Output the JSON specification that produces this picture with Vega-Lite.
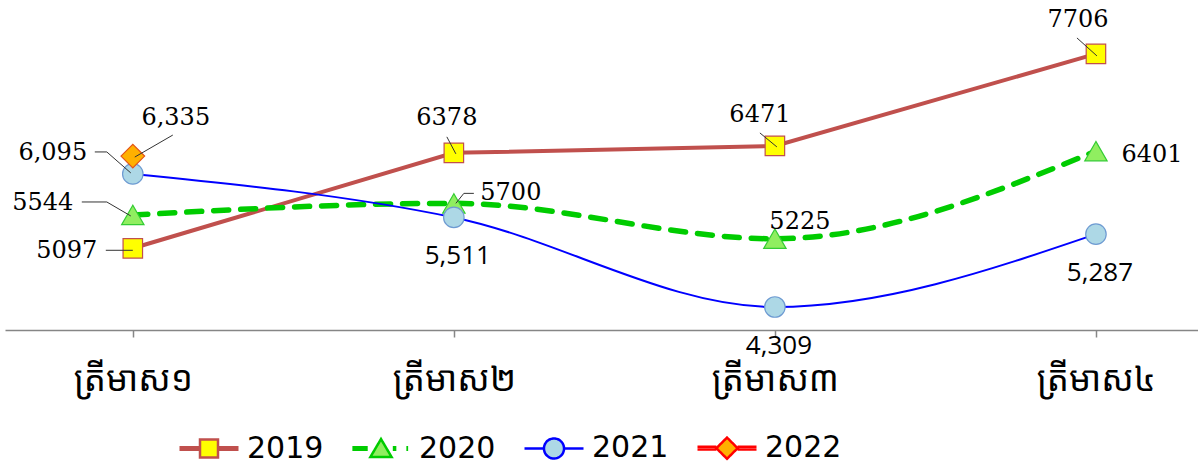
{
  "$schema": "https://vega.github.io/schema/vega-lite/v6.json",
  "width": 1193,
  "height": 330,
  "autosize": {"type": "none"},
  "padding": {"left": 5, "top": 0, "right": 0, "bottom": 137},
  "background": "white",
  "config": {"view": {"stroke": null}},
  "data": {"values": [
    {"q": "ត្រីមាស១", "quarter": 1, "year": "2019", "value": 5097, "label": "5097"},
    {"q": "ត្រីមាស២", "quarter": 2, "year": "2019", "value": 6378, "label": "6378"},
    {"q": "ត្រីមាស៣", "quarter": 3, "year": "2019", "value": 6471, "label": "6471"},
    {"q": "ត្រីមាស៤", "quarter": 4, "year": "2019", "value": 7706, "label": "7706"},
    {"q": "ត្រីមាស១", "quarter": 1, "year": "2020", "value": 5544, "label": "5544"},
    {"q": "ត្រីមាស២", "quarter": 2, "year": "2020", "value": 5700, "label": "5700"},
    {"q": "ត្រីមាស៣", "quarter": 3, "year": "2020", "value": 5225, "label": "5225"},
    {"q": "ត្រីមាស៤", "quarter": 4, "year": "2020", "value": 6401, "label": "6401"},
    {"q": "ត្រីមាស១", "quarter": 1, "year": "2021", "value": 6095, "label": "6,095"},
    {"q": "ត្រីមាស២", "quarter": 2, "year": "2021", "value": 5511, "label": "5,511"},
    {"q": "ត្រីមាស៣", "quarter": 3, "year": "2021", "value": 4309, "label": "4,309"},
    {"q": "ត្រីមាស៤", "quarter": 4, "year": "2021", "value": 5287, "label": "5,287"},
    {"q": "ត្រីមាស១", "quarter": 1, "year": "2022", "value": 6335, "label": "6,335"}
  ]},
  "encoding": {
    "x": {
      "field": "q", "type": "nominal",
      "sort": ["ត្រីមាស១", "ត្រីមាស២", "ត្រីមាស៣", "ត្រីមាស៤"],
      "scale": {"type": "point", "padding": 0.358, "align": 0.556},
      "axis": {"title": null, "grid": false, "domainColor": "#868686", "domainWidth": 1.5, "tickColor": "#868686", "tickSize": 7, "tickWidth": 1.5, "labelFont": "Noto Sans Khmer, Khmer OS, DejaVu Sans, sans-serif", "labelFontSize": 35, "labelColor": "#000000", "labelPadding": 25, "labelAngle": 0}
    },
    "y": {"field": "value", "type": "quantitative", "scale": {"domain": [4000, 8430], "zero": false, "nice": false}, "axis": null}
  },
  "layer": [
    {
      "transform": [{"filter": "datum.year == '2019'"}],
      "mark": {"type": "line", "strokeWidth": 4, "interpolate": "linear"},
      "encoding": {"stroke": {"field": "year", "type": "nominal",
        "scale": {"domain": ["2019", "2020", "2021", "2022"], "range": ["#C0504D", "#00CC00", "#0000FF", "#FF0000"]},
        "legend": {"orient": "none", "legendX": 173, "legendY": 417, "direction": "horizontal", "columns": 4, "title": null,
          "symbolSize": 3481, "symbolStrokeWidth": 2.5, "labelFont": "DejaVu Sans", "labelFontSize": 30, "labelColor": "#000000", "labelOffset": 7, "columnPadding": 23, "labelLimit": 300,
          "encode": {"symbols": {"update": {
            "shape": {"signal": "datum.value == '2019' ? 'M-1,-0.045H-0.31M-1,0.045H-0.31M0.31,-0.045H1M0.31,0.045H1M-0.305,-0.305H0.305V0.305H-0.305Z' : datum.value == '2020' ? 'M-0.97,-0.045H-0.45M-0.97,0.045H-0.45M0.4,-0.045H0.52M0.4,0.045H0.52M0.86,-0.045H0.92M0.86,0.045H0.92M0,-0.32L0.36,0.29H-0.36Z' : datum.value == '2021' ? 'M-1,0H-0.34M0.34,0H1M0.34,0A0.34,0.34 0 1,1 -0.34,0A0.34,0.34 0 1,1 0.34,0Z' : 'M-1,-0.045H-0.36M-1,0.045H-0.36M0.36,-0.045H1M0.36,0.045H1M0,-0.36L0.36,0L0,0.36L-0.36,0Z'"},
            "fill": {"signal": "datum.value == '2019' ? '#FFFF00' : datum.value == '2020' ? '#90EE60' : datum.value == '2021' ? '#ADD8E6' : '#FFB000'"},
            "stroke": {"signal": "datum.value == '2019' ? '#C0504D' : datum.value == '2020' ? '#00CC00' : datum.value == '2021' ? '#0000FF' : '#FF0000'"},
            "strokeWidth": {"value": 2.5},
            "strokeDash": {"value": [1, 0]},
            "opacity": {"value": 1}
          }}}
        }}}
    },
    {
      "transform": [{"filter": "datum.year == '2020'"}],
      "mark": {"type": "line", "strokeWidth": 5.5, "interpolate": "monotone", "strokeDash": [15, 12], "strokeCap": "round"},
      "encoding": {"stroke": {"field": "year", "type": "nominal",
        "scale": {"domain": ["2019", "2020", "2021", "2022"], "range": ["#C0504D", "#00CC00", "#0000FF", "#FF0000"]}}}
    },
    {
      "transform": [{"filter": "datum.year == '2021'"}],
      "mark": {"type": "line", "strokeWidth": 2, "interpolate": "monotone"},
      "encoding": {"stroke": {"field": "year", "type": "nominal",
        "scale": {"domain": ["2019", "2020", "2021", "2022"], "range": ["#C0504D", "#00CC00", "#0000FF", "#FF0000"]}}}
    },
    {
      "mark": {"type": "point", "filled": true, "opacity": 1, "strokeWidth": 1.2},
      "encoding": {
        "shape": {"condition": [{"test": "datum.year == '2019'", "value": "square"}, {"test": "datum.year == '2020'", "value": "triangle-up"}, {"test": "datum.year == '2021'", "value": "circle"}], "value": "diamond"},
        "size": {"condition": [{"test": "datum.year == '2019'", "value": 380}, {"test": "datum.year == '2020'", "value": 500}, {"test": "datum.year == '2021'", "value": 420}], "value": 560},
        "fill": {"condition": [{"test": "datum.year == '2019'", "value": "#FFFF00"}, {"test": "datum.year == '2020'", "value": "#90EE60"}, {"test": "datum.year == '2021'", "value": "#ADD8E6"}], "value": "#FFB000"},
        "stroke": {"condition": [{"test": "datum.year == '2019'", "value": "#C0504D"}, {"test": "datum.year == '2020'", "value": "#33CC33"}, {"test": "datum.year == '2021'", "value": "#6E9BD2"}], "value": "#E2541A"}
      }
    },
    {"transform": [{"filter": "datum.year == '2022'"}], "mark": {"type": "rule", "color": "#333333", "strokeWidth": 1, "xOffset": 40, "yOffset": -21, "x2Offset": 2, "y2Offset": 1}, "encoding": {"x2": {"field": "q"}, "y2": {"field": "value"}}},
    {"transform": [{"filter": "datum.year == '2021' && datum.quarter == 1"}], "mark": {"type": "rule", "color": "#333333", "strokeWidth": 1, "xOffset": -38, "yOffset": -22, "x2Offset": -26, "y2Offset": -22}, "encoding": {"x2": {"field": "q"}, "y2": {"field": "value"}}},
    {"transform": [{"filter": "datum.year == '2021' && datum.quarter == 1"}], "mark": {"type": "rule", "color": "#333333", "strokeWidth": 1, "xOffset": -26, "yOffset": -22, "x2Offset": -2, "y2Offset": -1}, "encoding": {"x2": {"field": "q"}, "y2": {"field": "value"}}},
    {"transform": [{"filter": "datum.year == '2020' && datum.quarter == 1"}], "mark": {"type": "rule", "color": "#333333", "strokeWidth": 1, "xOffset": -51, "yOffset": -13, "x2Offset": -26, "y2Offset": -13}, "encoding": {"x2": {"field": "q"}, "y2": {"field": "value"}}},
    {"transform": [{"filter": "datum.year == '2020' && datum.quarter == 1"}], "mark": {"type": "rule", "color": "#333333", "strokeWidth": 1, "xOffset": -26, "yOffset": -13, "x2Offset": -2, "y2Offset": 1}, "encoding": {"x2": {"field": "q"}, "y2": {"field": "value"}}},
    {"transform": [{"filter": "datum.year == '2019' && datum.quarter == 1"}], "mark": {"type": "rule", "color": "#333333", "strokeWidth": 1, "xOffset": -27, "yOffset": 2, "x2Offset": 0, "y2Offset": 2}, "encoding": {"x2": {"field": "q"}, "y2": {"field": "value"}}},
    {"transform": [{"filter": "datum.year == '2019' && datum.quarter == 2"}], "mark": {"type": "rule", "color": "#333333", "strokeWidth": 1, "xOffset": -7, "yOffset": -16, "x2Offset": 2, "y2Offset": 1}, "encoding": {"x2": {"field": "q"}, "y2": {"field": "value"}}},
    {"transform": [{"filter": "datum.year == '2020' && datum.quarter == 2"}], "mark": {"type": "rule", "color": "#333333", "strokeWidth": 1, "xOffset": 20, "yOffset": -10, "x2Offset": 10, "y2Offset": -10}, "encoding": {"x2": {"field": "q"}, "y2": {"field": "value"}}},
    {"transform": [{"filter": "datum.year == '2020' && datum.quarter == 2"}], "mark": {"type": "rule", "color": "#333333", "strokeWidth": 1, "xOffset": 10, "yOffset": -10, "x2Offset": 2, "y2Offset": 0}, "encoding": {"x2": {"field": "q"}, "y2": {"field": "value"}}},
    {"transform": [{"filter": "datum.year == '2019' && datum.quarter == 3"}], "mark": {"type": "rule", "color": "#333333", "strokeWidth": 1, "xOffset": -15, "yOffset": -13, "x2Offset": 2, "y2Offset": 1}, "encoding": {"x2": {"field": "q"}, "y2": {"field": "value"}}},
    {"transform": [{"filter": "datum.year == '2019' && datum.quarter == 4"}], "mark": {"type": "rule", "color": "#333333", "strokeWidth": 1, "xOffset": -19, "yOffset": -16, "x2Offset": 1, "y2Offset": 2}, "encoding": {"x2": {"field": "q"}, "y2": {"field": "value"}}},
    {"transform": [{"filter": "datum.year == '2019' && datum.quarter == 1"}], "mark": {"type": "text", "font": "DejaVu Serif", "fontSize": 24, "color": "#000000", "align": "center", "baseline": "middle", "dx": -66, "dy": 3}, "encoding": {"text": {"field": "label"}}},
    {"transform": [{"filter": "datum.year == '2019' && datum.quarter == 2"}], "mark": {"type": "text", "font": "DejaVu Serif", "fontSize": 24, "color": "#000000", "align": "center", "baseline": "middle", "dx": -7, "dy": -35}, "encoding": {"text": {"field": "label"}}},
    {"transform": [{"filter": "datum.year == '2019' && datum.quarter == 3"}], "mark": {"type": "text", "font": "DejaVu Serif", "fontSize": 24, "color": "#000000", "align": "center", "baseline": "middle", "dx": -15, "dy": -31}, "encoding": {"text": {"field": "label"}}},
    {"transform": [{"filter": "datum.year == '2019' && datum.quarter == 4"}], "mark": {"type": "text", "font": "DejaVu Serif", "fontSize": 24, "color": "#000000", "align": "center", "baseline": "middle", "dx": -18, "dy": -34}, "encoding": {"text": {"field": "label"}}},
    {"transform": [{"filter": "datum.year == '2020' && datum.quarter == 1"}], "mark": {"type": "text", "font": "DejaVu Serif", "fontSize": 24, "color": "#000000", "align": "center", "baseline": "middle", "dx": -90, "dy": -12}, "encoding": {"text": {"field": "label"}}},
    {"transform": [{"filter": "datum.year == '2020' && datum.quarter == 2"}], "mark": {"type": "text", "font": "DejaVu Serif", "fontSize": 24, "color": "#000000", "align": "center", "baseline": "middle", "dx": 57, "dy": -10}, "encoding": {"text": {"field": "label"}}},
    {"transform": [{"filter": "datum.year == '2020' && datum.quarter == 3"}], "mark": {"type": "text", "font": "DejaVu Serif", "fontSize": 24, "color": "#000000", "align": "center", "baseline": "middle", "dx": 25, "dy": -17}, "encoding": {"text": {"field": "label"}}},
    {"transform": [{"filter": "datum.year == '2020' && datum.quarter == 4"}], "mark": {"type": "text", "font": "DejaVu Serif", "fontSize": 24, "color": "#000000", "align": "center", "baseline": "middle", "dx": 56, "dy": 4}, "encoding": {"text": {"field": "label"}}},
    {"transform": [{"filter": "datum.year == '2021' && datum.quarter == 1"}], "mark": {"type": "text", "font": "DejaVu Serif", "fontSize": 24, "color": "#000000", "align": "center", "baseline": "middle", "dx": -80, "dy": -21}, "encoding": {"text": {"field": "label"}}},
    {"transform": [{"filter": "datum.year == '2021' && datum.quarter > 1"}], "mark": {"type": "text", "font": "Open Sans", "fontSize": 26, "color": "#000000", "align": "center", "baseline": "middle", "dx": 4, "dy": 39}, "encoding": {"text": {"field": "label"}}},
    {"transform": [{"filter": "datum.year == '2022'"}], "mark": {"type": "text", "font": "DejaVu Serif", "fontSize": 24, "color": "#000000", "align": "center", "baseline": "middle", "dx": 43, "dy": -38}, "encoding": {"text": {"field": "label"}}}
  ]
}
